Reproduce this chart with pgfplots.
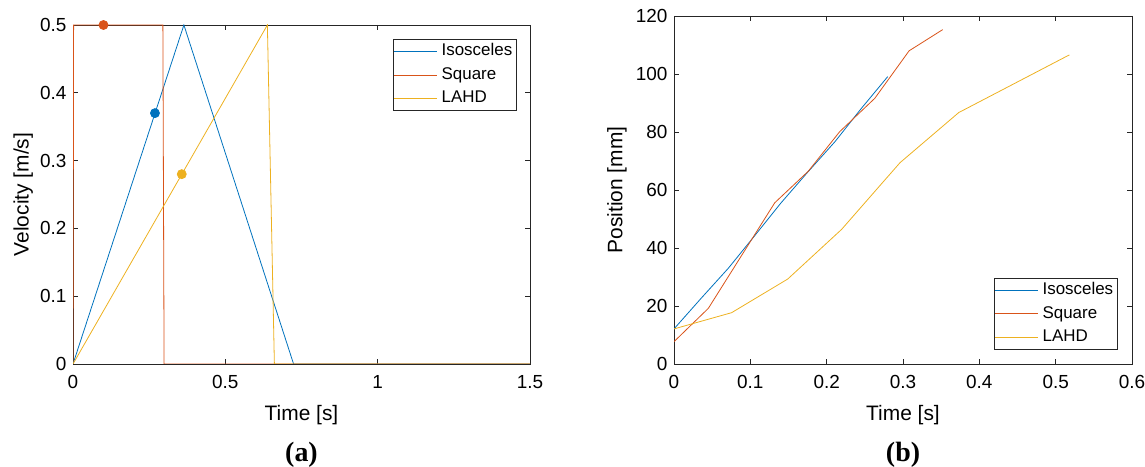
\documentclass[border=0pt]{standalone}
\usepackage{fontspec}
\setmainfont{Liberation Sans}
\newfontfamily\serifb{Liberation Serif}
\usepackage{pgfplots}
\pgfplotsset{compat=1.18}
\definecolor{mblue}{RGB}{0,114,189}
\definecolor{morange}{RGB}{217,83,25}
\definecolor{myellow}{RGB}{237,177,32}
\definecolor{maxis}{RGB}{38,38,38}
\pgfplotsset{
  mstyle/.style={
    scale only axis,
    axis line style={maxis, line width=0.6bp},
    every tick/.style={maxis, line width=0.6bp},
    tick align=inside,
    major tick length=5bp,
    tick label style={font=\fontsize{19}{22}\selectfont, text=black},
    xticklabel style={yshift=-8bp},
    yticklabel style={xshift=-3bp},
    label style={font=\fontsize{21}{24}\selectfont, text=black},
    /pgf/number format/assume math mode=true,
    legend style={font=\fontsize{17}{20}\selectfont, draw=maxis, line width=0.6bp,
      inner sep=0.5bp, row sep=0pt,
      nodes={inner sep=4bp, text height=12bp, text depth=3.5bp}},
    legend cell align=left,
    legend image code/.code={\draw[##1, mark=none, line width=1bp] (-6bp,0bp) -- (37bp,0bp);},
    every axis plot/.append style={line width=0.8bp},
  }
}
\begin{document}
\begin{tikzpicture}
\useasboundingbox (0,0) rectangle (1145bp,467bp);
% (a)
\begin{axis}[mstyle,
  at={(73bp,103bp)}, anchor=south west,
  width=457bp, height=339bp,
  xmin=0, xmax=1.5, ymin=0, ymax=0.5,
  xtick={0,0.5,1,1.5}, ytick={0,0.1,0.2,0.3,0.4,0.5},
  xlabel={Time [s]}, ylabel={Velocity [m/s]},
  x label style={at={(axis description cs:0.5,-0.150)}, anchor=center},
  y label style={at={(axis description cs:-0.109,0.5)}, anchor=center},
  legend style={at={(axis description cs:0.9716,0.9587)}, anchor=north east},
]
\addplot[mblue] coordinates {(0,0) (0.364,0.5) (0.724,0) (1.5,0)};
\addlegendentry{Isosceles}
\addplot[morange] coordinates {(0,0) (0.002,0.5) (0.295,0.5) (0.299,0) (1.5,0)};
\addlegendentry{Square}
\addplot[myellow] coordinates {(0,0) (0.638,0.5) (0.661,0) (1.5,0)};
\addlegendentry{LAHD}
\addplot[only marks, mark=*, mark size=4.5bp, color=morange, forget plot] coordinates {(0.1,0.5)};
\addplot[only marks, mark=*, mark size=4.5bp, color=mblue, forget plot] coordinates {(0.269,0.370)};
\addplot[only marks, mark=*, mark size=4.5bp, color=myellow, forget plot] coordinates {(0.357,0.280)};
\end{axis}
% (b)
\begin{axis}[mstyle,
  at={(674bp,103bp)}, anchor=south west,
  width=458bp, height=348bp,
  xmin=0, xmax=0.6, ymin=0, ymax=120,
  xtick={0,0.1,0.2,0.3,0.4,0.5,0.6}, ytick={0,20,40,60,80,100,120},
  xticklabels={0,0.1,0.2,0.3,0.4,0.5,0.6},
  xlabel={Time [s]}, ylabel={Position [mm]},
  x label style={at={(axis description cs:0.5,-0.1466)}, anchor=center},
  y label style={at={(axis description cs:-0.1245,0.5)}, anchor=center},
  legend style={at={(axis description cs:0.9694,0.0402)}, anchor=south east},
]
\addplot[mblue] coordinates {(0,12.1) (0.035,22.5) (0.0711,33.0) (0.105,44) (0.14,55.5) (0.174,65.8) (0.211,76.7) (0.245,88) (0.280,99.1)};
\addlegendentry{Isosceles}
\addplot[morange] coordinates {(0,7.7) (0.045,19.2) (0.132,55.6) (0.176,66.5) (0.217,80.1) (0.263,91.6) (0.308,108.0) (0.352,115.3)};
\addlegendentry{Square}
\addplot[myellow] coordinates {(0,12.1) (0.0755,17.7) (0.149,29.3) (0.2195,46.4) (0.296,69.4) (0.373,86.7) (0.518,106.6)};
\addlegendentry{LAHD}
\end{axis}
\node[font=\serifb\bfseries\fontsize{28}{32}\selectfont, anchor=center] at (301.5bp,12bp) {(a)};
\node[font=\serifb\bfseries\fontsize{28}{32}\selectfont, anchor=center] at (903bp,12bp) {(b)};
\end{tikzpicture}
\end{document}
